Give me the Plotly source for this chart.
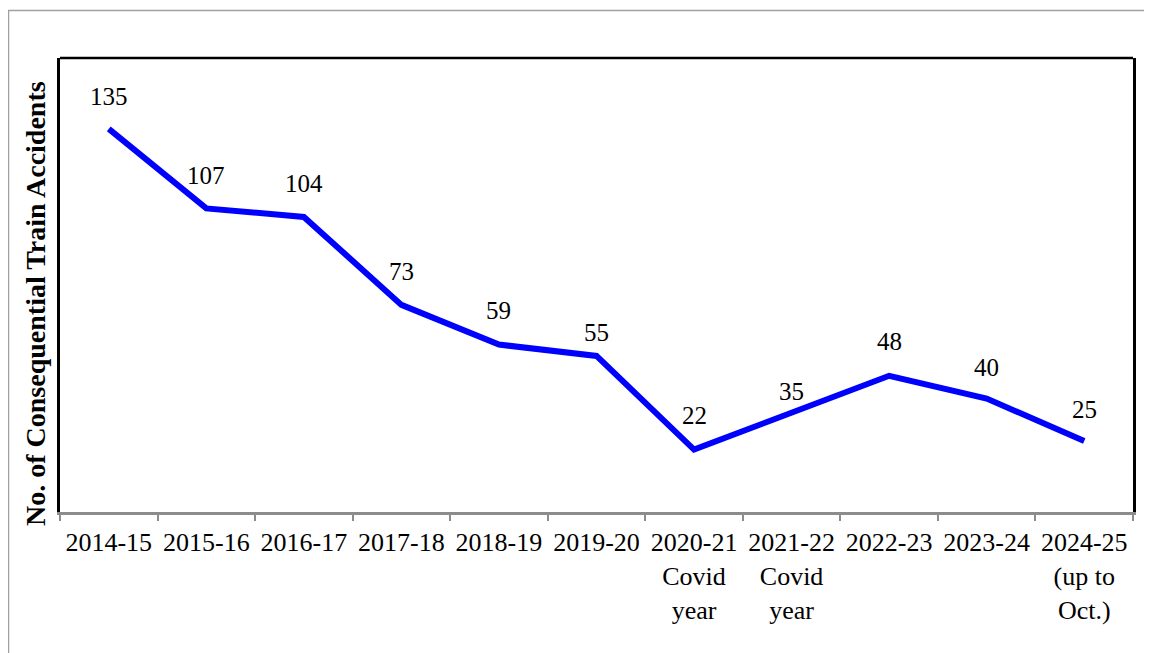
import plotly.graph_objects as go

categories = ["2014-15", "2015-16", "2016-17", "2017-18", "2018-19", "2019-20",
              "2020-21", "2021-22", "2022-23", "2023-24", "2024-25"]
tick_labels = ["2014-15", "2015-16", "2016-17", "2017-18", "2018-19", "2019-20",
               "2020-21<br>Covid<br>year", "2021-22<br>Covid<br>year", "2022-23", "2023-24",
               "2024-25<br>(up to<br>Oct.)"]
accidents = [135, 107, 104, 73, 59, 55, 22, 35, 48, 40, 25]
label_shift = [32, 33, 33, 33, 34, 23, 34, 21, 34, 31, 32]

FONT = "Liberation Serif"

W, H = 1144, 645
L, R, T, B = 52, 19, 50, 141
PW, PH = W - L - R, H - T - B

fig = go.Figure()
fig.add_trace(go.Scatter(
    x=categories, y=accidents, mode="lines",
    line=dict(color="#0000FF", width=6), hoverinfo="skip", showlegend=False,
))

for c, v, s in zip(categories, accidents, label_shift):
    fig.add_annotation(x=c, y=v, text=str(v), showarrow=False, yshift=s,
                       font=dict(family=FONT, size=25, color="black"))

fig.add_annotation(x=(27 - L) / PW, y=(H - B - 296) / PH, xref="paper", yref="paper",
                   xanchor="center", yanchor="middle",
                   text="<b>No. of Consequential Train Accidents</b>", textangle=-90,
                   showarrow=False, font=dict(family=FONT, size=28, color="black"))

# outer border
fig.add_shape(type="rect", xref="paper", yref="paper", x0=(0.5 - L) / PW, x1=1.05,
              y0=-0.4, y1=(H - B - 2.5) / PH, line=dict(color="#A0A0A0", width=1.5),
              layer="below")
# top border of plot area
fig.add_shape(type="line", xref="paper", yref="paper", x0=0, x1=1, y0=1, y1=1,
              line=dict(color="black", width=2.5))

fig.update_layout(
    width=W, height=H,
    margin=dict(l=L, r=R, t=T, b=B),
    paper_bgcolor="white", plot_bgcolor="white",
    font=dict(family=FONT, color="black"),
    xaxis=dict(
        type="category", range=[-0.5, 10.5], tickmode="array", tickvals=categories,
        ticktext=tick_labels, tickson="boundaries", ticks="outside", ticklen=6,
        tickcolor="#8C8C8C", tickwidth=1.5, showline=True, linecolor="#8C8C8C",
        linewidth=2.5, showgrid=False, zeroline=False, ticklabelstandoff=5,
        tickfont=dict(family=FONT, size=26, color="black"), tickangle=0,
    ),
    yaxis=dict(
        range=[0, 160], showticklabels=False, ticks="", showgrid=False, zeroline=False,
        showline=True, linecolor="black", linewidth=2.5, mirror=True,
    ),
)

fig.write_html("out.html")
